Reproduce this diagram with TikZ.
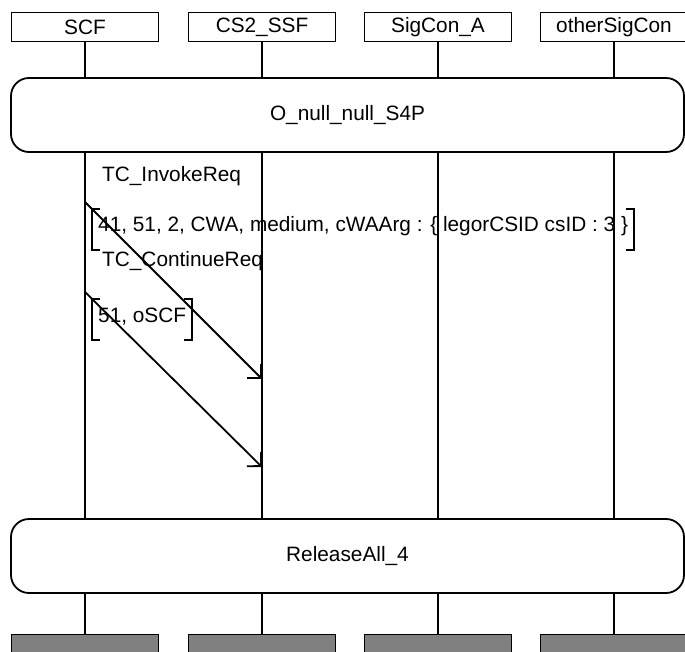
\documentclass[tikz,border=0pt]{standalone}
\usepackage{fontspec}
\setmainfont{Liberation Sans}
\usetikzlibrary{arrows.meta}

\begin{document}
\begin{tikzpicture}[x=1pt, y=-1pt,
  font=\fontsize{20.8}{25}\selectfont,
  fio/.style={line width=1.8pt},
  instancia/.style={fio, draw, minimum width=147pt, minimum height=29pt, inner sep=0pt},
  fim/.style={instancia, fill=black!50},
  referencia/.style={fio, draw, fill=white, rounded corners=18pt, minimum width=673pt, minimum height=74pt},
  msg/.style={fio, -{Straight Barb[length=10pt, width=20pt]}},
  rotulo/.style={inner sep=0pt, anchor=base west},
  argumento/.style={inner xsep=6pt, inner ysep=0pt, text height=23pt, text depth=18pt, anchor=base west}]
  \clip (0,0) rectangle (685,652);
  % instancias
  \node[instancia] (scf) at (85,27) {SCF};
  \node[instancia] (ssf) at (262,27) {CS2\_SSF};
  \node[instancia] (sigA) at (438,27) {SigCon\_A};
  \node[instancia] (outra) at (614,27) {otherSigCon};
  % referencias
  \node[referencia] (inicio) at (347.5,115) {O\_null\_null\_S4P};
  \node[referencia] (release) at (347.5,556) {ReleaseAll\_4};
  % fim das instancias
  \node[fim] (scf-fim) at (85,649) {};
  \node[fim] (ssf-fim) at (262,649) {};
  \node[fim] (sigA-fim) at (438,649) {};
  \node[fim] (outra-fim) at (614,649) {};
  % linhas de vida
  \foreach \inst in {scf, ssf, sigA, outra} {
    \draw[fio] (\inst.south) -- (\inst.south |- inicio.north);
    \draw[fio] (\inst.south |- inicio.south) -- (\inst.south |- release.north);
    \draw[fio] (\inst.south |- release.south) -- (\inst-fim.north);
  }
  % mensagens
  \coordinate (inv-de) at (scf |- 0,202);
  \coordinate (inv-para) at (ssf |- 0,379);
  \coordinate (cont-de) at (scf |- 0,292);
  \coordinate (cont-para) at (ssf |- 0,467);
  \draw[msg] (inv-de) -- (inv-para);
  \draw[msg] (cont-de) -- (cont-para);
  % rotulos e argumentos
  \node[rotulo] (invoke) at (102,182) {TC\_InvokeReq};
  \node[argumento] (arg-inv) at (92,232) {41, 51, 2, CWA, medium, cWAArg : \{ legorCSID csID : 3 \}};
  \node[rotulo] (continue) at (102,266) {TC\_ContinueReq};
  \node[argumento] (arg-cont) at (92,322) {51, oSCF};
  % colchetes
  \foreach \arg in {arg-inv, arg-cont} {
    \draw[fio] ([xshift=8pt]\arg.north west) -- (\arg.north west) -- (\arg.south west) -- ([xshift=8pt]\arg.south west);
    \draw[fio] ([xshift=-8pt]\arg.north east) -- (\arg.north east) -- (\arg.south east) -- ([xshift=-8pt]\arg.south east);
  }
\end{tikzpicture}
\end{document}
